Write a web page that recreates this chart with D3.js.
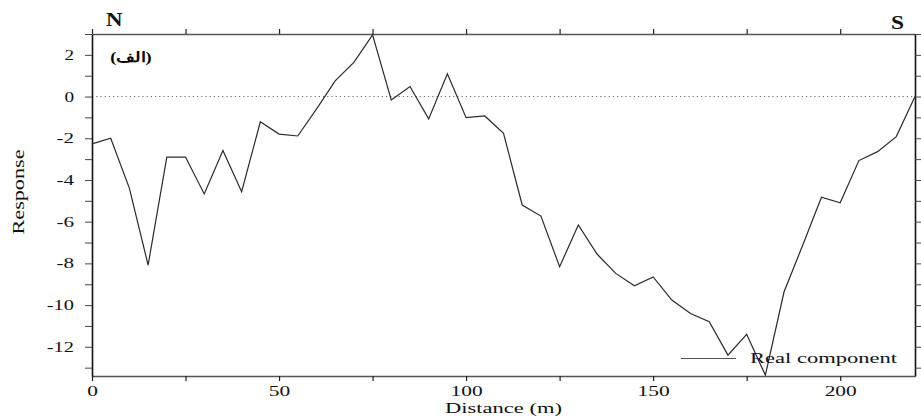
<!DOCTYPE html>
<html>
<head>
<meta charset="utf-8">
<script src="https://cdn.jsdelivr.net/npm/d3@7"></script>
<style>
  html, body { margin: 0; padding: 0; background: #fff; }
  svg { display: block; }
  text { font-family: "Liberation Serif", "Times New Roman", serif; }
</style>
</head>
<body>
<svg id="chart" width="921" height="419"></svg>
<script>
// Profile sampled every 5 m along the line
const distances = [0, 5, 10, 15, 20, 25, 30, 35, 40, 45, 50, 55, 60, 65, 70, 75, 80, 85, 90, 95,
  100, 105, 110, 115, 120, 125, 130, 135, 140, 145, 150, 155, 160, 165, 170, 175, 180, 185, 190, 195,
  200, 205, 210, 215, 220];
const realComponent = [-2.27, -2.0, -4.4, -8.08, -2.9, -2.9, -4.67, -2.59, -4.56, -1.21,
  -1.8, -1.89, -0.6, 0.75, 1.64, 2.96, -0.16, 0.48, -1.07, 1.09,
  -1.01, -0.93, -1.76, -5.2, -5.73, -8.16, -6.16, -7.55, -8.48, -9.07,
  -8.65, -9.76, -10.4, -10.8, -12.4, -11.4, -13.36, -9.36, -7.12, -4.83,
  -5.09, -3.07, -2.64, -1.92, 0.0];

const xTicks = [0, 25, 50, 75, 100, 125, 150, 175, 200];
const xLabels = [0, 50, 100, 150, 200];
const yTicks = [3, 2, 1, 0, -1, -2, -3, -4, -5, -6, -7, -8, -9, -10, -11, -12, -13];
const yLabels = [2, 0, -2, -4, -6, -8, -10, -12];

const svg = d3.select("#chart");
const plotLeft = 92, plotRight = 915, plotTop = 34, plotBottom = 376;

const x = d3.scaleLinear().domain([0, 220]).range([plotLeft, plotRight]);
const y = d3.scaleLinear().domain([-13.4, 3]).range([plotBottom, plotTop]);

const fmt = d => xLabels.includes(d) ? String(d) : "";
const fmtY = d => yLabels.includes(d) ? String(d) : "";

// width of a wide-set numeric label: digits and minus sign
const numWidth = (s, digitW, minusW) =>
  [...s].reduce((w, c) => w + (c === "-" ? minusW : digitW), 0);

// zero reference line
svg.append("line")
  .attr("x1", plotLeft).attr("x2", plotRight)
  .attr("y1", y(0)).attr("y2", y(0))
  .attr("stroke", "#666").attr("stroke-width", 1)
  .attr("stroke-dasharray", "1.2,3");

// bottom axis
const gx = svg.append("g").attr("transform", `translate(0,${plotBottom})`)
  .call(d3.axisBottom(x).tickValues(xTicks).tickFormat(fmt).tickSize(5).tickSizeOuter(0));
// top axis
const gt = svg.append("g").attr("transform", `translate(0,${plotTop})`)
  .call(d3.axisTop(x).tickValues(xTicks).tickFormat("").tickSize(5).tickSizeOuter(0));
// left axis
const gy = svg.append("g").attr("transform", `translate(${plotLeft},0)`)
  .call(d3.axisLeft(y).tickValues(yTicks).tickFormat(fmtY).tickSize(7).tickSizeOuter(0));
// right axis
const gr = svg.append("g").attr("transform", `translate(${plotRight},0)`)
  .call(d3.axisRight(y).tickValues(yTicks).tickFormat("").tickSize(6).tickSizeOuter(0));

[gx, gt].forEach(g => {
  g.select(".domain").attr("stroke", "#555").attr("stroke-width", 1.3);
  g.selectAll(".tick line").attr("stroke", "#222").attr("stroke-width", 1.2);
});
[gy, gr].forEach(g => {
  g.select(".domain").attr("stroke", "#111").attr("stroke-width", 1.6);
  g.selectAll(".tick line").attr("stroke", "#444").attr("stroke-width", 1);
});

gx.selectAll(".tick text")
  .attr("font-family", "Liberation Serif").attr("font-size", 15)
  .attr("fill", "#111").attr("y", 9)
  .each(function () {
    const s = this.textContent;
    if (s) d3.select(this)
      .attr("textLength", numWidth(s, 10.7, 7))
      .attr("lengthAdjust", "spacingAndGlyphs");
  });
gy.selectAll(".tick text")
  .attr("font-family", "Liberation Serif").attr("font-size", 14)
  .attr("fill", "#111").attr("x", -18)
  .each(function () {
    const s = this.textContent;
    if (s) d3.select(this)
      .attr("textLength", numWidth(s, 9.6, 8))
      .attr("lengthAdjust", "spacingAndGlyphs");
  });

// data line
const line = d3.line()
  .x((d, i) => x(distances[i]))
  .y(d => y(d));
svg.append("path")
  .datum(realComponent)
  .attr("d", line)
  .attr("fill", "none")
  .attr("stroke", "#2a2a2a")
  .attr("stroke-width", 1.2)
  .attr("stroke-linejoin", "miter");

// axis titles
svg.append("text")
  .attr("x", (plotLeft + plotRight) / 2).attr("y", 413)
  .attr("text-anchor", "middle")
  .attr("font-size", 15).attr("fill", "#111")
  .attr("textLength", 117).attr("lengthAdjust", "spacingAndGlyphs")
  .text("Distance (m)");
svg.append("text")
  .attr("transform", "translate(24,192) rotate(-90)")
  .attr("text-anchor", "middle")
  .attr("font-size", 16).attr("fill", "#111")
  .attr("textLength", 85).attr("lengthAdjust", "spacingAndGlyphs")
  .text("Response");

// direction markers
svg.append("text")
  .attr("x", 106).attr("y", 26)
  .attr("font-size", 18).attr("font-weight", "bold").attr("fill", "#111")
  .attr("textLength", 16.5).attr("lengthAdjust", "spacingAndGlyphs")
  .text("N");
svg.append("text")
  .attr("x", 891).attr("y", 29)
  .attr("font-size", 18).attr("font-weight", "bold").attr("fill", "#111")
  .attr("textLength", 13).attr("lengthAdjust", "spacingAndGlyphs")
  .text("S");

// panel label
svg.append("text")
  .attr("transform", "translate(131,62) scale(1.3,1)")
  .attr("text-anchor", "middle")
  .attr("font-family", "DejaVu Sans")
  .attr("font-size", 14).attr("font-weight", "bold").attr("fill", "#000")
  .text("(الف)");

// legend
svg.append("line")
  .attr("x1", 681).attr("x2", 736)
  .attr("y1", 358.5).attr("y2", 358.5)
  .attr("stroke", "#555").attr("stroke-width", 1.2);
svg.append("text")
  .attr("x", 750).attr("y", 363)
  .attr("font-size", 15).attr("fill", "#111")
  .attr("textLength", 147).attr("lengthAdjust", "spacingAndGlyphs")
  .text("Real component");
</script>
</body>
</html>
